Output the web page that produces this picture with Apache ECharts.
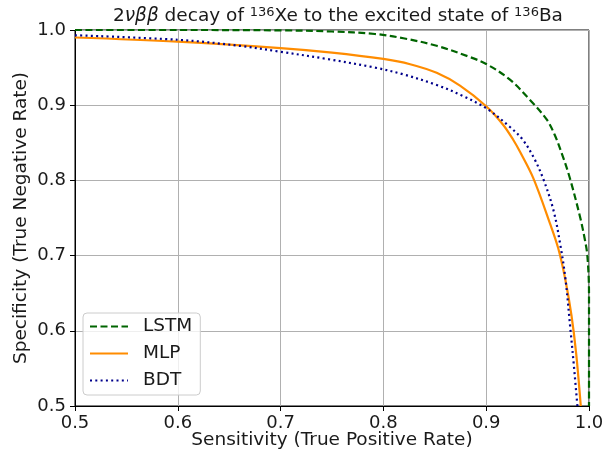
<!DOCTYPE html>
<html>
<head>
<meta charset="utf-8">
<script src="https://cdn.jsdelivr.net/npm/echarts@6/dist/echarts.min.js"></script>
<style>html,body{margin:0;padding:0;background:#fff}#c{width:603px;height:454px}</style>
</head>
<body>
<div id="c"></div>
<script>
const xTicks = [0.5, 0.6, 0.7, 0.8, 0.9, 1.0];
const yTicks = [0.5, 0.6, 0.7, 0.8, 0.9, 1.0];

const lstmX = [0.5, 0.6, 0.7, 0.75, 0.7918, 0.8194, 0.8518, 0.8842, 0.9005, 0.9231, 0.9426, 0.9588, 0.9665, 0.974, 0.9815, 0.9912, 0.996, 0.9984, 1.0, 1.0];
const lstmY = [1.0, 1.0, 0.9995, 0.998, 0.9947, 0.989, 0.979, 0.964, 0.9545, 0.934, 0.907, 0.881, 0.861, 0.834, 0.8025, 0.752, 0.721, 0.700, 0.650, 0.5];

const mlpX = [0.5, 0.6, 0.7, 0.75, 0.8, 0.826, 0.8518, 0.8745, 0.9005, 0.9166, 0.9264, 0.9329, 0.9458, 0.962, 0.970, 0.977, 0.983, 0.9875, 0.992];
const mlpY = [0.990, 0.9845, 0.976, 0.970, 0.9615, 0.9545, 0.943, 0.926, 0.898, 0.8737, 0.8537, 0.838, 0.803, 0.743, 0.710, 0.668, 0.620, 0.570, 0.500];

const bdtX = [0.5, 0.6, 0.66, 0.7, 0.745, 0.7918, 0.8194, 0.8518, 0.8777, 0.9005, 0.9231, 0.935, 0.946, 0.9555, 0.9655, 0.972, 0.977, 0.9822, 0.9854, 0.9887];
const bdtY = [0.993, 0.987, 0.979, 0.971, 0.9615, 0.950, 0.941, 0.9269, 0.912, 0.8955, 0.871, 0.855, 0.831, 0.802, 0.760, 0.715, 0.670, 0.598, 0.552, 0.500];

const seriesNames = ['LSTM', 'MLP', 'BDT'];

function pairs(xs, ys) { return xs.map((x, i) => [x, ys[i]]); }

const FONT = 'DejaVu Sans';
const TXT = '#1a1a1a';
const chart = echarts.init(document.getElementById('c'), null, {renderer: 'canvas'});
chart.setOption({
  animation: false,
  backgroundColor: '#fff',
  title: {
    text: '2{i|νββ} decay of {sup|136}Xe to the excited state of {sup|136}Ba',
    left: 108,
    top: 1,
    textStyle: {
      fontFamily: FONT, fontSize: 18.5, fontWeight: 'normal', color: TXT,
      rich: {
        i: {fontFamily: FONT, fontSize: 18.5, fontStyle: 'italic', color: TXT},
        sup: {fontFamily: FONT, fontSize: 13, color: TXT, verticalAlign: 'top', padding: [0, 0, 7, 0]}
      }
    }
  },
  grid: {left: 75, right: 14, top: 30, bottom: 48, show: true, borderColor: '#000', borderWidth: 1, containLabel: false, outerBoundsMode: 'none'},
  legend: {
    orient: 'vertical', left: 83, top: 313,
    data: seriesNames,
    itemWidth: 38, itemHeight: 14, itemGap: 8,
    padding: [4, 8, 5, 6],
    backgroundColor: 'rgba(255,255,255,0.8)', borderColor: '#cccccc', borderWidth: 1, borderRadius: 4,
    itemStyle: {opacity: 0},
    textStyle: {fontFamily: FONT, fontSize: 18.5, color: TXT, padding: [0, 0, 0, 10]}
  },
  xAxis: {
    type: 'value', min: 0.5, max: 1.0, interval: 0.1,
    name: 'Sensitivity (True Positive Rate)', nameLocation: 'middle', nameGap: 25, nameMoveOverlap: false,
    nameTextStyle: {fontFamily: FONT, fontSize: 18.5, color: TXT},
    axisLine: {show: true, onZero: false, lineStyle: {color: '#000', width: 1}},
    axisTick: {show: true, inside: false, length: 5, lineStyle: {color: '#000'}},
    axisLabel: {fontFamily: FONT, fontSize: 18, color: TXT, margin: 8, formatter: v => xTicks.includes(+v.toFixed(1)) ? v.toFixed(1) : ''},
    splitLine: {show: true, lineStyle: {color: '#b0b0b0', width: 1}}
  },
  yAxis: {
    type: 'value', min: 0.5, max: 1.0, interval: 0.1,
    name: 'Specificity (True Negative Rate)', nameLocation: 'middle', nameGap: 44, nameMoveOverlap: false,
    nameTextStyle: {fontFamily: FONT, fontSize: 18.5, color: TXT},
    axisLine: {show: true, onZero: false, lineStyle: {color: '#000', width: 1}},
    axisTick: {show: true, inside: false, length: 5, lineStyle: {color: '#000'}},
    axisLabel: {fontFamily: FONT, fontSize: 18, color: TXT, margin: 9, formatter: v => yTicks.includes(+v.toFixed(1)) ? v.toFixed(1) : ''},
    splitLine: {show: true, lineStyle: {color: '#b0b0b0', width: 1}}
  },
  series: [
    {name: 'LSTM', type: 'line', data: pairs(lstmX, lstmY), showSymbol: false, symbol: 'none', smooth: 0.35, clip: true,
     color: '#006400', lineStyle: {color: '#006400', width: 2.2, type: [7, 3.5]}},
    {name: 'MLP', type: 'line', data: pairs(mlpX, mlpY), showSymbol: false, symbol: 'none', smooth: 0.35, clip: true,
     color: '#ff8c00', lineStyle: {color: '#ff8c00', width: 2.2, type: 'solid'}},
    {name: 'BDT', type: 'line', data: pairs(bdtX, bdtY), showSymbol: false, symbol: 'none', smooth: 0.35, clip: true,
     color: '#00008b', lineStyle: {color: '#00008b', width: 2.2, type: [2, 3.3]}}
  ]
});
</script>
</body>
</html>
